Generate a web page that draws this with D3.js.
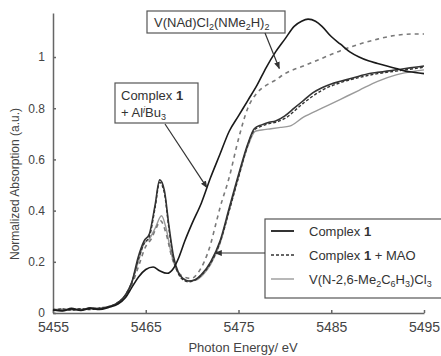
<!DOCTYPE html>
<html>
<head>
<meta charset="utf-8">
<script src="https://cdn.jsdelivr.net/npm/d3@7"></script>
<style>
  body { margin: 0; background: #fff; }
  svg { font-family: Arial, "Liberation Sans", sans-serif; }
</style>
</head>
<body>
<div id="chart"></div>
<script>
// spectra: [photon energy eV, normalized absorption]
var aliBu3 = [[5455,0.012],[5456,0.008],[5457,0.016],[5458,0.010],[5459,0.018],[5460,0.014],[5461,0.022],[5462,0.035],[5462.8,0.06],[5463.5,0.10],[5464.2,0.14],[5465,0.17],[5465.8,0.18],[5466.5,0.165],[5467.3,0.155],[5468,0.175],[5468.6,0.22],[5469.2,0.28],[5470,0.35],[5471,0.43],[5472,0.53],[5473,0.62],[5474,0.71],[5475,0.77],[5476,0.83],[5477,0.89],[5478,0.96],[5479,1.02],[5480,1.07],[5481,1.12],[5481.8,1.14],[5482.5,1.148],[5483.3,1.14],[5484,1.12],[5485,1.08],[5486,1.05],[5487,1.02],[5488,1.0],[5489,0.985],[5490,0.975],[5491,0.965],[5492,0.955],[5493,0.945],[5494,0.94],[5495,0.935]];
var complex1 = [[5455,0.015],[5456,0.010],[5457,0.018],[5458,0.012],[5459,0.020],[5460,0.016],[5461,0.025],[5462,0.04],[5462.8,0.07],[5463.5,0.12],[5464.2,0.22],[5464.8,0.28],[5465.4,0.31],[5466,0.42],[5466.5,0.52],[5467,0.48],[5467.5,0.34],[5468,0.22],[5468.5,0.16],[5469,0.135],[5469.6,0.125],[5470.3,0.13],[5471,0.15],[5472,0.20],[5473,0.28],[5474,0.41],[5475,0.54],[5476,0.66],[5476.7,0.72],[5477.5,0.735],[5478.3,0.745],[5479,0.75],[5480,0.77],[5481,0.80],[5482,0.83],[5483,0.86],[5484,0.88],[5485,0.895],[5486,0.905],[5487,0.915],[5488,0.925],[5489,0.935],[5490,0.94],[5491,0.945],[5492,0.95],[5493,0.955],[5494,0.96],[5495,0.965]];
var complex1Mao = [[5455,0.010],[5456,0.016],[5457,0.011],[5458,0.017],[5459,0.013],[5460,0.02],[5461,0.024],[5462,0.042],[5462.8,0.07],[5463.5,0.12],[5464.2,0.21],[5464.8,0.27],[5465.4,0.30],[5466,0.41],[5466.5,0.51],[5467,0.47],[5467.5,0.33],[5468,0.21],[5468.5,0.155],[5469,0.13],[5469.6,0.122],[5470.3,0.128],[5471,0.148],[5472,0.195],[5473,0.275],[5474,0.40],[5475,0.53],[5476,0.655],[5476.7,0.715],[5477.5,0.73],[5478.3,0.74],[5479,0.745],[5480,0.76],[5482,0.82],[5484,0.87],[5486,0.90],[5488,0.92],[5490,0.935],[5492,0.945],[5494,0.955],[5495,0.96]];
var vNAr = [[5455,0.012],[5456,0.016],[5457,0.012],[5458,0.015],[5459,0.017],[5460,0.018],[5461,0.024],[5462,0.04],[5462.8,0.07],[5463.5,0.12],[5464.2,0.20],[5464.8,0.27],[5465.4,0.29],[5466,0.33],[5466.7,0.38],[5467.2,0.33],[5467.7,0.24],[5468.3,0.17],[5469,0.135],[5469.7,0.125],[5470.5,0.13],[5471.2,0.15],[5472,0.19],[5473,0.27],[5474,0.40],[5475,0.53],[5476,0.65],[5476.8,0.71],[5477.5,0.715],[5478.5,0.72],[5479.5,0.725],[5480.5,0.73],[5482,0.765],[5484,0.80],[5486,0.835],[5488,0.87],[5490,0.905],[5492,0.93],[5494,0.945],[5495,0.95]];
var vNAd = [[5455,0.014],[5456,0.012],[5457,0.017],[5458,0.013],[5459,0.018],[5460,0.017],[5461,0.023],[5462,0.038],[5462.8,0.065],[5463.5,0.11],[5464.2,0.18],[5465,0.26],[5465.6,0.29],[5466.1,0.33],[5466.6,0.36],[5467.2,0.31],[5467.8,0.22],[5468.5,0.16],[5469.2,0.14],[5469.9,0.135],[5470.6,0.155],[5471.3,0.20],[5472,0.27],[5472.5,0.34],[5473,0.41],[5474,0.53],[5475,0.68],[5476,0.80],[5477,0.86],[5478,0.89],[5479,0.91],[5480,0.935],[5482,0.965],[5484,0.995],[5486,1.025],[5488,1.05],[5490,1.07],[5492,1.085],[5494,1.09],[5495,1.09]];

var xTicks = [5455, 5465, 5475, 5485, 5495];
var yTicks = [0, 0.2, 0.4, 0.6, 0.8, 1];
var xDomain = [5455, 5495];
var yDomain = [0, 1.172];

var width = 441, height = 356;
var svg = d3.select("#chart").append("svg")
    .attr("width", width)
    .attr("height", height);

var x = d3.scaleLinear().domain(xDomain).range([53, 424]);
var y = d3.scaleLinear().domain(yDomain).range([313, 13]);

// axes
var xAxis = svg.append("g")
    .attr("transform", "translate(0,313)")
    .call(d3.axisBottom(x).tickValues(xTicks).tickFormat(d3.format("d")).tickSizeInner(-3).tickSizeOuter(0).tickPadding(9));
xAxis.selectAll("text").style("font-size", "14px").attr("fill", "#444");
var yAxis = svg.append("g")
    .attr("transform", "translate(53,0)")
    .call(d3.axisLeft(y).tickValues(yTicks).tickFormat(function(d) { return d === 0 || d === 1 ? d : d.toFixed(1); }).tickSizeInner(-3).tickSizeOuter(0).tickPadding(8));
yAxis.selectAll("text").style("font-size", "12px").attr("fill", "#444");
svg.selectAll(".domain, .tick line").attr("stroke", "#666").attr("stroke-width", 1.5);

svg.append("text")
    .attr("x", 243).attr("y", 352)
    .attr("text-anchor", "middle")
    .style("font-size", "13px").attr("fill", "#444")
    .text("Photon Energy/ eV");
svg.append("text")
    .attr("transform", "translate(19,184) rotate(-90)")
    .attr("text-anchor", "middle")
    .style("font-size", "12px").attr("fill", "#444")
    .text("Normalized Absorption (a.u.)");

// curves
var line = d3.line()
    .x(function(d) { return x(d[0]); })
    .y(function(d) { return y(d[1]); })
    .curve(d3.curveMonotoneX);

var series = [
    { data: vNAr, color: "#9a9a9a", width: 1.4, dash: null },
    { data: vNAd, color: "#7a7a7a", width: 1.6, dash: "4,4" },
    { data: complex1Mao, color: "#333", width: 1.4, dash: "3,2" },
    { data: complex1, color: "#333", width: 1.6, dash: null },
    { data: aliBu3, color: "#1a1a1a", width: 1.6, dash: null }
];
svg.selectAll(".curve")
    .data(series)
    .enter()
    .append("path")
    .attr("class", "curve")
    .attr("fill", "none")
    .attr("d", function(d) { return line(d.data); })
    .attr("stroke", function(d) { return d.color; })
    .attr("stroke-width", function(d) { return d.width; })
    .attr("stroke-dasharray", function(d) { return d.dash; });

// rich text helper: parts of {t, b, sub, sup, i}
function richText(g, px, py, parts) {
    var t = g.append("text").attr("x", px).attr("y", py)
        .style("font-size", "13px").attr("fill", "#333");
    var shift = 0;
    parts.forEach(function(p) {
        var target = p.sub ? 3 : (p.sup ? -4 : 0);
        var ts = t.append("tspan").attr("dy", target - shift).text(p.t);
        shift = target;
        if (p.b) ts.style("font-weight", "bold");
        if (p.i) ts.style("font-style", "italic");
        if (p.sub || p.sup) ts.style("font-size", "9px");
    });
    return t;
}

var defs = svg.append("defs");
defs.append("marker")
    .attr("id", "arr")
    .attr("viewBox", "0 0 10 10")
    .attr("refX", 9).attr("refY", 5)
    .attr("markerWidth", 6).attr("markerHeight", 6)
    .attr("orient", "auto")
    .append("path").attr("d", "M0,1 L10,5 L0,9 Z").attr("fill", "#333");

var ann = svg.append("g");
// V(NAd) box
ann.append("rect").attr("x", 147).attr("y", 11).attr("width", 138).attr("height", 22)
    .attr("fill", "#fff").attr("stroke", "#555").attr("stroke-width", 1.2);
richText(ann, 154, 27, [{t: "V(NAd)Cl"}, {t: "2", sub: true}, {t: "(NMe"}, {t: "2", sub: true}, {t: "H)"}, {t: "2", sub: true}]);
ann.append("line").attr("x1", 265).attr("y1", 33).attr("x2", x(5479.4)).attr("y2", y(0.955))
    .attr("stroke", "#333").attr("stroke-width", 1.2).attr("marker-end", "url(#arr)");

// AliBu3 box
ann.append("rect").attr("x", 115).attr("y", 83).attr("width", 83).attr("height", 40)
    .attr("fill", "#fff").attr("stroke", "#555").attr("stroke-width", 1.2);
richText(ann, 121, 100, [{t: "Complex "}, {t: "1", b: true}]);
richText(ann, 121, 117, [{t: "+ Al"}, {t: "i", sup: true, i: true}, {t: "Bu"}, {t: "3", sub: true}]);
ann.append("line").attr("x1", 165).attr("y1", 124).attr("x2", x(5471.6)).attr("y2", y(0.49))
    .attr("stroke", "#333").attr("stroke-width", 1.2).attr("marker-end", "url(#arr)");

// legend
var legendRows = [
    { label: [{t: "Complex "}, {t: "1", b: true}], color: "#333", width: 2, dash: null },
    { label: [{t: "Complex "}, {t: "1", b: true}, {t: " + MAO"}], color: "#333", width: 1.6, dash: "3,2" },
    { label: [{t: "V(N-2,6-Me"}, {t: "2", sub: true}, {t: "C"}, {t: "6", sub: true}, {t: "H"}, {t: "3", sub: true}, {t: ")Cl"}, {t: "3", sub: true}], color: "#9a9a9a", width: 1.4, dash: null }
];
var legend = svg.append("g");
legend.append("rect").attr("x", 265).attr("y", 219).attr("width", 190).attr("height", 79)
    .attr("fill", "#fff").attr("stroke", "#555").attr("stroke-width", 1.2);
legendRows.forEach(function(r, i) {
    var ly = 231 + i * 24;
    legend.append("line").attr("x1", 271).attr("x2", 294).attr("y1", ly).attr("y2", ly)
        .attr("stroke", r.color).attr("stroke-width", r.width).attr("stroke-dasharray", r.dash);
    richText(legend, 309, ly + 5, r.label);
});
legend.append("line").attr("x1", 265).attr("y1", 253).attr("x2", x(5472.5)).attr("y2", 253)
    .attr("stroke", "#333").attr("stroke-width", 1.2).attr("marker-end", "url(#arr)");
</script>
</body>
</html>
